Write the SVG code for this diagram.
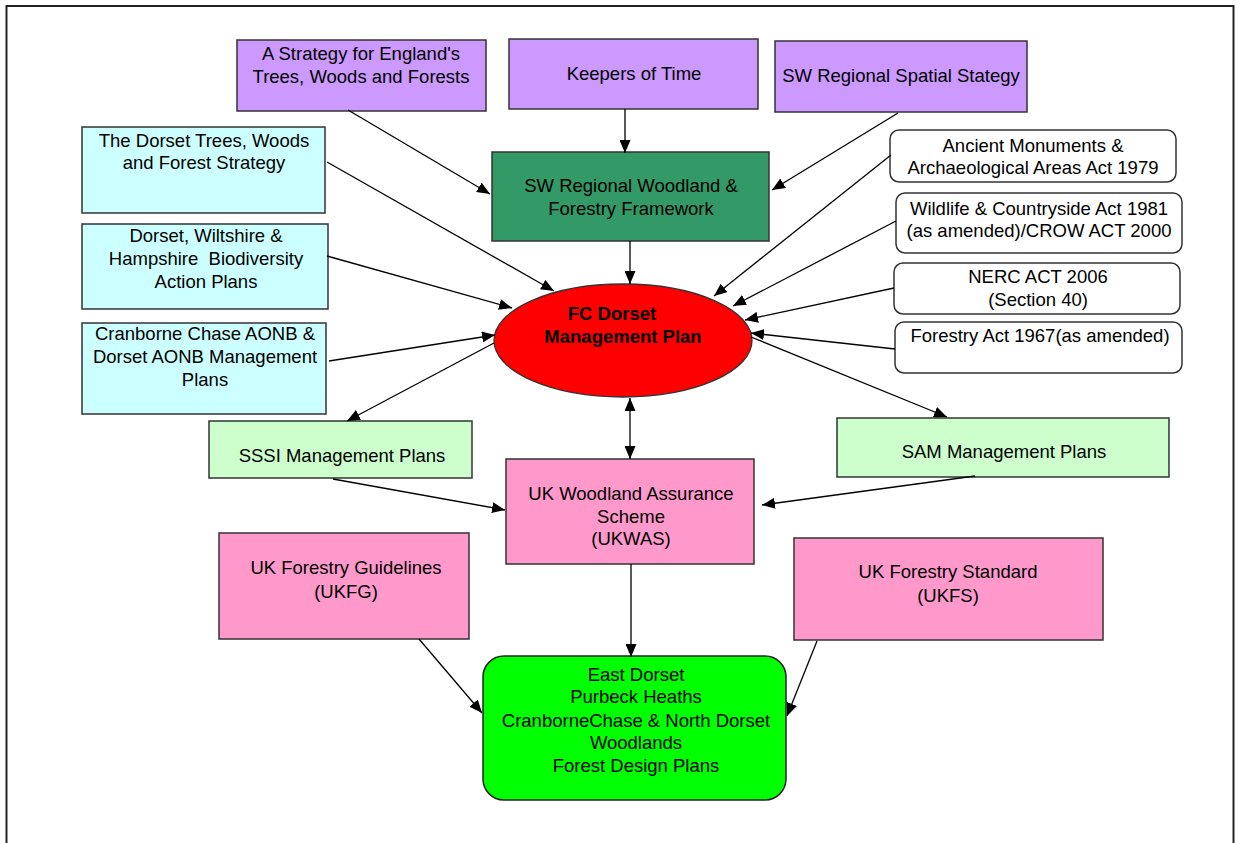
<svg xmlns="http://www.w3.org/2000/svg" width="1239" height="843" viewBox="0 0 1239 843">
<style>
text{font-family:"Liberation Sans",Arial,sans-serif;font-size:18.5px;fill:#000;text-anchor:middle;white-space:pre}
.b{stroke:#333;stroke-width:1.5}
.p{fill:#CC99FF}.c{fill:#CCFFFF}.w{fill:#fff}.g{fill:#CCFFCC}.k{fill:#FF99CC}
.bold{font-weight:bold}
#connectors line{stroke:#000;stroke-width:1.3;marker-end:url(#ah)}
</style>
<defs>
<marker id="ah" markerUnits="userSpaceOnUse" markerWidth="14" markerHeight="11" refX="13" refY="5.5" orient="auto-start-reverse">
<path d="M0,0 L13,5.5 L0,11 z" fill="#000"/>
</marker>
</defs>
<rect x="6.5" y="6" width="1227" height="900" fill="#fff" stroke="#222" stroke-width="2"/>

<g id="strategy"><rect class="b p" x="237" y="40" width="249" height="71"/><text x="361" y="60">A Strategy for England's</text><text x="361" y="83">Trees, Woods and Forests</text></g>
<g id="keepers"><rect class="b p" x="509" y="39" width="249" height="70"/><text x="634" y="80">Keepers of Time</text></g>
<g id="spatial"><rect class="b p" x="775" y="41" width="252" height="71"/><text x="901" y="82">SW Regional Spatial Stategy</text></g>
<g id="swrwff"><rect class="b" fill="#339966" x="492" y="152" width="277" height="89"/><text x="631" y="192">SW Regional Woodland &amp;</text><text x="631" y="215">Forestry Framework</text></g>

<g id="dorsettrees"><rect class="b c" x="82" y="127" width="243" height="86"/><text x="204" y="147">The Dorset Trees, Woods</text><text x="204" y="169">and Forest Strategy</text></g>
<g id="biodiversity"><rect class="b c" x="82" y="224" width="246" height="85"/><text x="206" y="242">Dorset, Wiltshire &amp;</text><text x="206" y="265">Hampshire  Biodiversity</text><text x="206" y="288">Action Plans</text></g>
<g id="aonb"><rect class="b c" x="82" y="323" width="244" height="91"/><text x="205" y="340">Cranborne Chase AONB &amp;</text><text x="205" y="363">Dorset AONB Management</text><text x="205" y="386">Plans</text></g>

<g id="ancient"><rect class="b w" x="890" y="130" width="286" height="52" rx="9"/><text x="1033" y="152">Ancient Monuments &amp;</text><text x="1033" y="174">Archaeological Areas Act 1979</text></g>
<g id="wildlife"><rect class="b w" x="896" y="193" width="286" height="60" rx="9"/><text x="1039" y="215">Wildlife &amp; Countryside Act 1981</text><text x="1039" y="237">(as amended)/CROW ACT 2000</text></g>
<g id="nerc"><rect class="b w" x="894" y="263" width="286" height="51" rx="9"/><text x="1038" y="283">NERC ACT 2006</text><text x="1038" y="306">(Section 40)</text></g>
<g id="forestryact"><rect class="b w" x="895" y="322" width="287" height="51" rx="9"/><text x="1040" y="342">Forestry Act 1967(as amended)</text></g>

<g id="fcdorset"><ellipse cx="623" cy="340.5" rx="129" ry="56.5" fill="#FF0000" stroke="#333" stroke-width="1.3"/><text class="bold" x="612" y="320">FC Dorset</text><text class="bold" x="623" y="343">Management Plan</text></g>

<g id="sssi"><rect class="b g" x="209" y="421" width="263" height="57"/><text x="342" y="462">SSSI Management Plans</text></g>
<g id="sam"><rect class="b g" x="837" y="418" width="332" height="59"/><text x="1004" y="458">SAM Management Plans</text></g>

<g id="ukwas"><rect class="b k" x="506" y="459" width="248" height="105"/><text x="631" y="500">UK Woodland Assurance</text><text x="631" y="523">Scheme</text><text x="631" y="545">(UKWAS)</text></g>
<g id="ukfg"><rect class="b k" x="219" y="533" width="250" height="106"/><text x="346" y="574">UK Forestry Guidelines</text><text x="346" y="598">(UKFG)</text></g>
<g id="ukfs"><rect class="b k" x="794" y="538" width="309" height="102"/><text x="948" y="578">UK Forestry Standard</text><text x="948" y="602">(UKFS)</text></g>

<g id="fdp"><rect x="483" y="656" width="303" height="144" rx="21" fill="#00FF00" stroke="#222" stroke-width="1.5"/><text x="636" y="681">East Dorset</text><text x="636" y="703">Purbeck Heaths</text><text x="636" y="727">CranborneChase &amp; North Dorset</text><text x="636" y="749">Woodlands</text><text x="636" y="772">Forest Design Plans</text></g>

<g id="connectors">
<line x1="348" y1="110" x2="490" y2="194"/>
<line x1="625" y1="109" x2="625" y2="153"/>
<line x1="898" y1="113" x2="772" y2="190"/>
<line x1="630" y1="241" x2="630" y2="284"/>
<line x1="327" y1="162" x2="554" y2="291"/>
<line x1="327" y1="256" x2="512" y2="308"/>
<line x1="329" y1="361" x2="495" y2="335"/>
<line x1="494" y1="343" x2="347" y2="421"/>
<line x1="891" y1="155" x2="714" y2="296"/>
<line x1="896" y1="221" x2="733" y2="306"/>
<line x1="894" y1="288" x2="745" y2="320"/>
<line x1="895" y1="349" x2="751" y2="333"/>
<line x1="751" y1="337" x2="947" y2="417"/>
<line x1="630" y1="459" x2="630" y2="398" style="marker-start:url(#ah)"/>
<line x1="333" y1="479" x2="505" y2="510"/>
<line x1="975" y1="476" x2="762" y2="505"/>
<line x1="631" y1="564" x2="631" y2="657"/>
<line x1="419" y1="639" x2="482" y2="713"/>
<line x1="817" y1="641" x2="787" y2="716"/>
</g>
</svg>
